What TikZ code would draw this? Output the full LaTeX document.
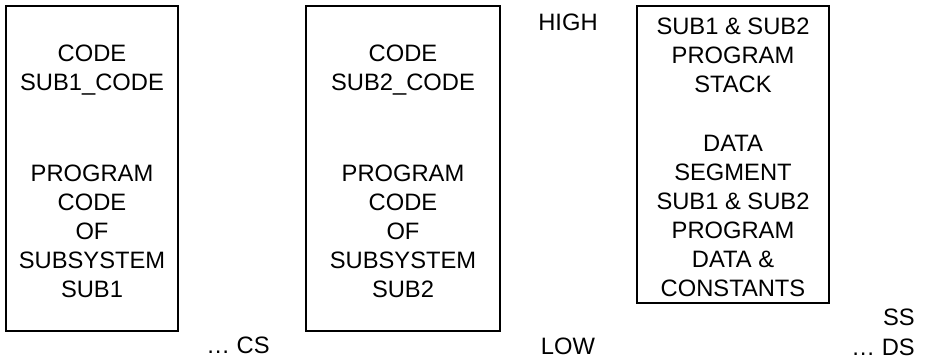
\documentclass[tikz,border=0pt]{standalone}
\usepackage{fontspec}
\setmainfont{Liberation Sans}
\usetikzlibrary{positioning}

\begin{document}
\begin{tikzpicture}
[x=0.75pt,y=-0.75pt,
  segbox/.style={shape=rectangle,draw,line width=1.7pt,inner sep=0pt},
  segtext/.style={align=center,inner sep=0pt,font=\fontsize{17.8}{21.75}\selectfont},
  marktext/.style={inner sep=0pt,font=\fontsize{17.8}{21.75}\selectfont}]
\useasboundingbox (0,0) rectangle (935,360);
%% segment boxes
\foreach \nodename/\xa/\ya/\xb/\yb in {sub1/6/6/178/331,
  sub2/306/6/500/331, data/637/6/829/303}
{
  \node (\nodename) at ({(\xa+\xb)/2},{(\ya+\yb)/2}) [segbox,
    minimum width={(\xb-\xa)*0.75pt}, minimum height={(\yb-\ya)*0.75pt}] {};
}
%% texts inside the boxes
\foreach \nodename/\x/\y/\words in {sub1top/92/70/{CODE\\SUB1\_CODE},
  sub1low/92/231/{PROGRAM\\CODE\\OF\\SUBSYSTEM\\SUB1},
  sub2top/403/70/{CODE\\SUB2\_CODE},
  sub2low/403/231/{PROGRAM\\CODE\\OF\\SUBSYSTEM\\SUB2},
  datatop/733/55/{SUB1 \& SUB2\\PROGRAM\\STACK},
  datalow/733/215.5/{DATA\\SEGMENT\\SUB1 \& SUB2\\PROGRAM\\DATA \&\\CONSTANTS}}
{
  \node (\nodename) at (\x,\y) [segtext] {\words};
}
%% registers and address marks
\node (high) at (568,22) [marktext] {HIGH};
\node (low) at (568,346) [marktext] {LOW};
\node (cs) at (238,345) [marktext] {… CS};
\node (ds) [marktext,anchor=east] at (915,347) {… DS};
\node (ss) [marktext,anchor=east] at (915,317) {SS};
\end{tikzpicture}
\end{document}
